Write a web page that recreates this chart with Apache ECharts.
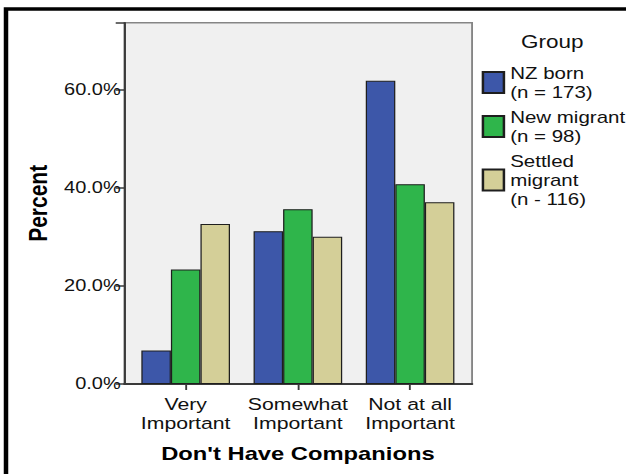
<!DOCTYPE html>
<html>
<head>
<meta charset="utf-8">
<script src="https://cdn.jsdelivr.net/npm/echarts@6/dist/echarts.min.js"></script>
<style>
  html, body { margin: 0; padding: 0; background: #fff; overflow: hidden; }
  /* the original picture is stretched sideways, so draw narrow and widen */
  #chart { width: 501px; height: 474px; transform: scaleX(1.2495); transform-origin: 0 0; }
</style>
</head>
<body>
<div id="chart"></div>
<script>
// categories on x
var categories = ['Very\nImportant', 'Somewhat\nImportant', 'Not at all\nImportant'];
// percent per group
var nzBorn = [6.8, 31.1, 61.8];
var newMigrant = [23.3, 35.6, 40.7];
var settledMigrant = [32.6, 30.0, 37.0];
var groupNames = ['NZ born\n(n = 173)', 'New migrant\n(n = 98)', 'Settled\nmigrant\n(n - 116)'];
var groupColors = ['#3d57a9', '#2fb54b', '#d4cf98'];
var yTicks = [0, 20, 40, 60];

var font = 'Liberation Sans, Arial, sans-serif';
var axisColor = '#3a3a3a';
var yMax = 73.6;

function barSeries(name, data, color) {
  return {
    name: name,
    type: 'bar',
    xAxisIndex: 1,
    yAxisIndex: 1,
    barGap: 0,
    barCategoryGap: '21%',
    itemStyle: { color: color, borderColor: '#1e1e1e', borderWidth: 1 },
    data: data
  };
}

var chart = echarts.init(document.getElementById('chart'), null, { renderer: 'svg' });
chart.setOption({
  animation: false,
  textStyle: { fontFamily: font },
  // outer frame + legend heading
  graphic: [
    {
      type: 'rect',
      shape: { x: 4.8, y: 9, width: 600, height: 600 },
      style: { fill: 'none', stroke: '#000', lineWidth: 3.6 }
    },
    {
      type: 'text',
      x: 442, y: 42,
      style: { text: 'Group', font: '18px ' + font, fill: '#111', textAlign: 'center', textVerticalAlign: 'middle' }
    }
  ],
  legend: {
    orient: 'vertical',
    left: 385.5,
    top: 63.5,
    padding: 0,
    itemGap: 6,
    itemWidth: 16.8,
    itemHeight: 21,
    icon: 'rect',
    selectedMode: false,
    textStyle: { fontSize: 16.4, lineHeight: 19, color: '#111', fontFamily: font },
    data: groupNames
  },
  grid: [
    // plot frame
    { left: 99.6, top: 22.7, width: 278.2, height: 361.3, show: true,
      backgroundColor: '#f0f0f0', borderColor: '#858585', borderWidth: 1.5 },
    // bars sit a little inside the frame
    { left: 103.7, top: 22.7, width: 269.4, height: 361.3 }
  ],
  xAxis: [
    {
      gridIndex: 0,
      type: 'category',
      data: categories,
      axisLine: { lineStyle: { color: axisColor, width: 2 } },
      axisTick: { show: false },
      axisLabel: { show: false }
    },
    {
      gridIndex: 1,
      type: 'category',
      data: categories,
      name: "Don't Have Companions",
      nameLocation: 'middle',
      nameGap: 60,
      nameTextStyle: { fontSize: 19, fontWeight: 'bold', color: '#000' },
      axisLine: { show: false },
      axisTick: { show: true, alignWithLabel: true, length: 6, lineStyle: { color: axisColor, width: 1.5 } },
      axisLabel: { interval: 0, fontSize: 17, lineHeight: 19, color: '#111', margin: 11 }
    }
  ],
  yAxis: [
    {
      gridIndex: 0,
      type: 'value',
      min: 0,
      max: yMax,
      interval: 20,
      name: 'Percent',
      nameLocation: 'middle',
      nameRotate: 90,
      nameGap: 55,
      nameTextStyle: { fontSize: 21, fontWeight: 'bold', color: '#000' },
      axisLine: { show: true, lineStyle: { color: axisColor, width: 1.6 } },
      axisTick: { show: true, length: 7, lineStyle: { color: axisColor, width: 1.5 } },
      axisLabel: {
        fontSize: 16, color: '#111', margin: 3,
        formatter: function (v) { return yTicks.indexOf(v) >= 0 ? v.toFixed(1) + '%' : ''; }
      },
      splitLine: { show: false }
    },
    {
      gridIndex: 1,
      type: 'value',
      min: 0,
      max: yMax,
      show: false,
      splitLine: { show: false }
    }
  ],
  series: [
    barSeries(groupNames[0], nzBorn, groupColors[0]),
    barSeries(groupNames[1], newMigrant, groupColors[1]),
    barSeries(groupNames[2], settledMigrant, groupColors[2])
  ]
});
</script>
</body>
</html>
